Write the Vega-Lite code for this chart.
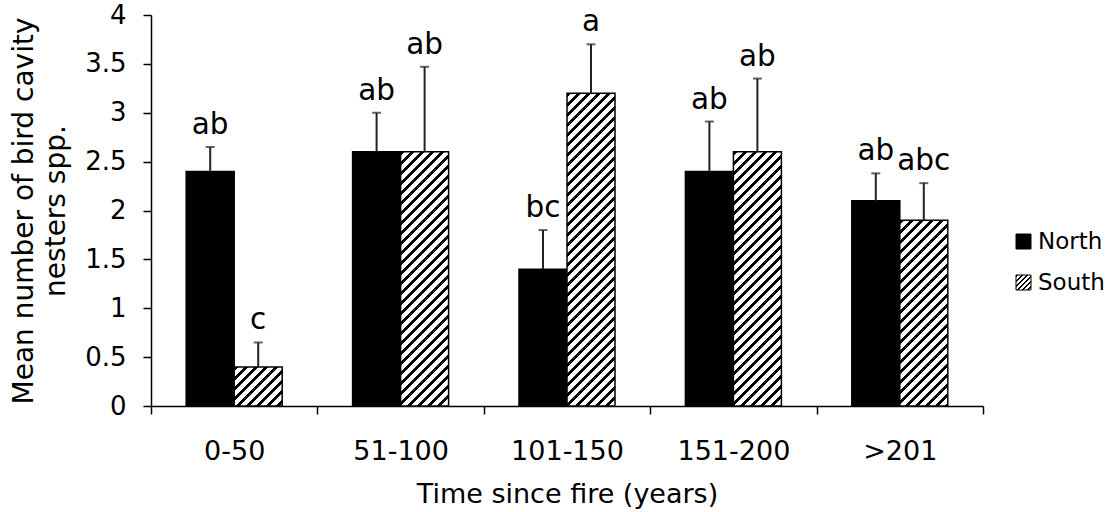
{
  "$schema": "https://vega.github.io/schema/vega-lite/v6.json",
  "width": 832,
  "height": 391,
  "autosize": {"type": "none"},
  "padding": {"left": 151, "top": 15, "right": 132, "bottom": 106},
  "background": "white",
  "config": {"view": {"stroke": null}, "font": "DejaVu Sans"},
  "params": [
    {"name": "hatch", "value": [
      {"offset":0,"color":"#000"},{"offset":0.01135,"color":"#000"},{"offset":0.01135,"color":"#fff"},{"offset":0.02703,"color":"#fff"},
      {"offset":0.02703,"color":"#000"},{"offset":0.03838,"color":"#000"},{"offset":0.03838,"color":"#fff"},{"offset":0.05405,"color":"#fff"},
      {"offset":0.05405,"color":"#000"},{"offset":0.0654,"color":"#000"},{"offset":0.0654,"color":"#fff"},{"offset":0.08108,"color":"#fff"},
      {"offset":0.08108,"color":"#000"},{"offset":0.09243,"color":"#000"},{"offset":0.09243,"color":"#fff"},{"offset":0.10811,"color":"#fff"},
      {"offset":0.10811,"color":"#000"},{"offset":0.11946,"color":"#000"},{"offset":0.11946,"color":"#fff"},{"offset":0.13514,"color":"#fff"},
      {"offset":0.13514,"color":"#000"},{"offset":0.14649,"color":"#000"},{"offset":0.14649,"color":"#fff"},{"offset":0.16216,"color":"#fff"},
      {"offset":0.16216,"color":"#000"},{"offset":0.17351,"color":"#000"},{"offset":0.17351,"color":"#fff"},{"offset":0.18919,"color":"#fff"},
      {"offset":0.18919,"color":"#000"},{"offset":0.20054,"color":"#000"},{"offset":0.20054,"color":"#fff"},{"offset":0.21622,"color":"#fff"},
      {"offset":0.21622,"color":"#000"},{"offset":0.22757,"color":"#000"},{"offset":0.22757,"color":"#fff"},{"offset":0.24324,"color":"#fff"},
      {"offset":0.24324,"color":"#000"},{"offset":0.25459,"color":"#000"},{"offset":0.25459,"color":"#fff"},{"offset":0.27027,"color":"#fff"},
      {"offset":0.27027,"color":"#000"},{"offset":0.28162,"color":"#000"},{"offset":0.28162,"color":"#fff"},{"offset":0.2973,"color":"#fff"},
      {"offset":0.2973,"color":"#000"},{"offset":0.30865,"color":"#000"},{"offset":0.30865,"color":"#fff"},{"offset":0.32432,"color":"#fff"},
      {"offset":0.32432,"color":"#000"},{"offset":0.33567,"color":"#000"},{"offset":0.33567,"color":"#fff"},{"offset":0.35135,"color":"#fff"},
      {"offset":0.35135,"color":"#000"},{"offset":0.3627,"color":"#000"},{"offset":0.3627,"color":"#fff"},{"offset":0.37838,"color":"#fff"},
      {"offset":0.37838,"color":"#000"},{"offset":0.38973,"color":"#000"},{"offset":0.38973,"color":"#fff"},{"offset":0.40541,"color":"#fff"},
      {"offset":0.40541,"color":"#000"},{"offset":0.41676,"color":"#000"},{"offset":0.41676,"color":"#fff"},{"offset":0.43243,"color":"#fff"},
      {"offset":0.43243,"color":"#000"},{"offset":0.44378,"color":"#000"},{"offset":0.44378,"color":"#fff"},{"offset":0.45946,"color":"#fff"},
      {"offset":0.45946,"color":"#000"},{"offset":0.47081,"color":"#000"},{"offset":0.47081,"color":"#fff"},{"offset":0.48649,"color":"#fff"},
      {"offset":0.48649,"color":"#000"},{"offset":0.49784,"color":"#000"},{"offset":0.49784,"color":"#fff"},{"offset":0.51351,"color":"#fff"},
      {"offset":0.51351,"color":"#000"},{"offset":0.52486,"color":"#000"},{"offset":0.52486,"color":"#fff"},{"offset":0.54054,"color":"#fff"},
      {"offset":0.54054,"color":"#000"},{"offset":0.55189,"color":"#000"},{"offset":0.55189,"color":"#fff"},{"offset":0.56757,"color":"#fff"},
      {"offset":0.56757,"color":"#000"},{"offset":0.57892,"color":"#000"},{"offset":0.57892,"color":"#fff"},{"offset":0.59459,"color":"#fff"},
      {"offset":0.59459,"color":"#000"},{"offset":0.60594,"color":"#000"},{"offset":0.60594,"color":"#fff"},{"offset":0.62162,"color":"#fff"},
      {"offset":0.62162,"color":"#000"},{"offset":0.63297,"color":"#000"},{"offset":0.63297,"color":"#fff"},{"offset":0.64865,"color":"#fff"},
      {"offset":0.64865,"color":"#000"},{"offset":0.66,"color":"#000"},{"offset":0.66,"color":"#fff"},{"offset":0.67568,"color":"#fff"},
      {"offset":0.67568,"color":"#000"},{"offset":0.68703,"color":"#000"},{"offset":0.68703,"color":"#fff"},{"offset":0.7027,"color":"#fff"},
      {"offset":0.7027,"color":"#000"},{"offset":0.71405,"color":"#000"},{"offset":0.71405,"color":"#fff"},{"offset":0.72973,"color":"#fff"},
      {"offset":0.72973,"color":"#000"},{"offset":0.74108,"color":"#000"},{"offset":0.74108,"color":"#fff"},{"offset":0.75676,"color":"#fff"},
      {"offset":0.75676,"color":"#000"},{"offset":0.76811,"color":"#000"},{"offset":0.76811,"color":"#fff"},{"offset":0.78378,"color":"#fff"},
      {"offset":0.78378,"color":"#000"},{"offset":0.79513,"color":"#000"},{"offset":0.79513,"color":"#fff"},{"offset":0.81081,"color":"#fff"},
      {"offset":0.81081,"color":"#000"},{"offset":0.82216,"color":"#000"},{"offset":0.82216,"color":"#fff"},{"offset":0.83784,"color":"#fff"},
      {"offset":0.83784,"color":"#000"},{"offset":0.84919,"color":"#000"},{"offset":0.84919,"color":"#fff"},{"offset":0.86486,"color":"#fff"},
      {"offset":0.86486,"color":"#000"},{"offset":0.87621,"color":"#000"},{"offset":0.87621,"color":"#fff"},{"offset":0.89189,"color":"#fff"},
      {"offset":0.89189,"color":"#000"},{"offset":0.90324,"color":"#000"},{"offset":0.90324,"color":"#fff"},{"offset":0.91892,"color":"#fff"},
      {"offset":0.91892,"color":"#000"},{"offset":0.93027,"color":"#000"},{"offset":0.93027,"color":"#fff"},{"offset":0.94595,"color":"#fff"},
      {"offset":0.94595,"color":"#000"},{"offset":0.9573,"color":"#000"},{"offset":0.9573,"color":"#fff"},{"offset":0.97297,"color":"#fff"},
      {"offset":0.97297,"color":"#000"},{"offset":0.98432,"color":"#000"},{"offset":0.98432,"color":"#fff"},{"offset":1,"color":"#fff"}
    ]}
  ],
  "data": {"values": [
    {"group": "0-50", "region": "North", "value": 2.4, "hi": 2.65, "label": "ab"},
    {"group": "0-50", "region": "South", "value": 0.4, "hi": 0.65, "label": "c"},
    {"group": "51-100", "region": "North", "value": 2.6, "hi": 3.0, "label": "ab"},
    {"group": "51-100", "region": "South", "value": 2.6, "hi": 3.47, "label": "ab"},
    {"group": "101-150", "region": "North", "value": 1.4, "hi": 1.8, "label": "bc"},
    {"group": "101-150", "region": "South", "value": 3.2, "hi": 3.7, "label": "a"},
    {"group": "151-200", "region": "North", "value": 2.4, "hi": 2.91, "label": "ab"},
    {"group": "151-200", "region": "South", "value": 2.6, "hi": 3.35, "label": "ab"},
    {"group": ">201", "region": "North", "value": 2.1, "hi": 2.38, "label": "ab"},
    {"group": ">201", "region": "South", "value": 1.9, "hi": 2.28, "label": "abc"}
  ]},
  "encoding": {
    "x": {
      "field": "group", "type": "nominal",
      "sort": ["0-50", "51-100", "101-150", "151-200", ">201"],
      "scale": {"paddingInner": 0, "paddingOuter": 0},
      "title": "Time since fire (years)",
      "axis": {
        "labelAngle": 0, "tickBand": "extent",
        "domainColor": "#000", "domainWidth": 1.5,
        "tickColor": "#000", "tickWidth": 1.5, "tickSize": 8,
        "labelFontSize": 27, "labelPadding": 24, "labelColor": "#000",
        "titleFontSize": 27, "titleFontWeight": "normal", "titleColor": "#000", "titlePadding": 17
      }
    },
    "xOffset": {
      "field": "region", "type": "nominal", "sort": ["North", "South"],
      "scale": {"paddingInner": 0, "paddingOuter": 0.7333}
    }
  },
  "layer": [
    {
      "mark": {"type": "bar", "stroke": "#000", "strokeWidth": 1.5},
      "encoding": {
        "y": {
          "field": "value", "type": "quantitative",
          "scale": {"domain": [0, 4]},
          "axis": {
            "values": [0, 0.5, 1, 1.5, 2, 2.5, 3, 3.5, 4], "format": ".1~f", "grid": false,
            "domainColor": "#000", "domainWidth": 1.5,
            "tickColor": "#000", "tickWidth": 1.5, "tickSize": 8,
            "labelFontSize": 26, "labelColor": "#000", "labelPadding": 17,
            "title": ["Mean number of bird cavity", "nesters spp."],
            "titleFontSize": 28, "titleFontWeight": "normal", "titleColor": "#000",
            "titleLineHeight": 32, "titlePadding": 14
          }
        },
        "fill": {
          "field": "region", "type": "nominal",
          "scale": {
            "domain": ["North", "South"],
            "range": ["#000", {"expr": "{gradient: 'linear', x1: 0, y1: 0, x2: 6.2, y2: 6.2, stops: hatch}"}]
          },
          "condition": {
            "test": "datum.region === 'South'",
            "value": {"expr": "{gradient: 'linear', x1: 0, y1: 0, x2: 17760 / (2304 + pow(datum.value * 97.75, 2)), y2: 36167.5 * datum.value / (2304 + pow(datum.value * 97.75, 2)), stops: hatch}"}
          },
          "legend": {
            "orient": "none", "legendX": 861, "legendY": 215,
            "title": null, "padding": 0,
            "symbolType": "square", "symbolSize": 225,
            "symbolStrokeColor": "#000", "symbolStrokeWidth": 1,
            "labelFontSize": 23, "labelColor": "#000", "labelOffset": 3,
            "rowPadding": 17
          }
        }
      }
    },
    {
      "mark": {"type": "rule", "stroke": "#222", "strokeWidth": 2},
      "encoding": {
        "y": {"field": "value", "type": "quantitative"},
        "y2": {"field": "hi"}
      }
    },
    {
      "mark": {"type": "tick", "color": "#222", "size": 9, "thickness": 2},
      "encoding": {
        "y": {"field": "hi", "type": "quantitative"}
      }
    },
    {
      "mark": {"type": "text", "fontSize": 29.5, "color": "#000", "baseline": "alphabetic", "dy": -13},
      "encoding": {
        "y": {"field": "hi", "type": "quantitative"},
        "text": {"field": "label"}
      }
    }
  ]
}
